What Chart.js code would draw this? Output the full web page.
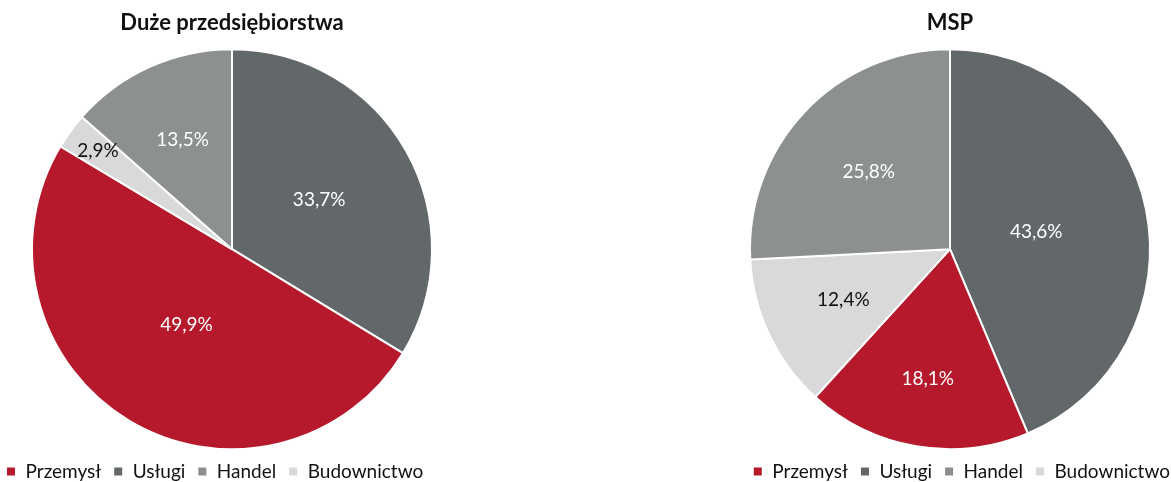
<!DOCTYPE html>
<html lang="pl">
<head>
<meta charset="utf-8">
<script src="https://cdn.jsdelivr.net/npm/chart.js@4.4.1/dist/chart.umd.min.js"></script>
<style>
    html, body { margin: 0; padding: 0; background: #fff; }
    body { position: relative; width: 1171px; height: 482px; overflow: hidden; }
    .pie-box { position: absolute; top: 0; height: 491px; }
    #largeBox { left: -6px; width: 476px; }
    #smeBox { left: 718px; width: 464px; }
</style>
</head>
<body>
<div class="pie-box" id="largeBox"><canvas id="largeChart"></canvas></div>
<div class="pie-box" id="smeBox"><canvas id="smeChart"></canvas></div>

<script>
// ===== Sector shares (%) =====
const sectors = ['Usługi', 'Przemysł', 'Budownictwo', 'Handel'];
const largeShares = [33.7, 49.9, 2.9, 13.5];
const smeShares = [43.6, 18.1, 12.4, 25.8];
const legendOrder = ['Przemysł', 'Usługi', 'Handel', 'Budownictwo'];

// ===== Colors =====
const sectorColors = ['#62676a', '#b5192b', '#d9d9d9', '#8c9091'];
const labelColors = ['#ffffff', '#ffffff', '#111111', '#ffffff'];

// how far out from the centre each value label sits (share of radius)
const largeLabelPos = [0.50, 0.44, 0.83, 0.60];
const smeLabelPos = [0.44, 0.66, 0.59, 0.56];

const fontFamily = 'Lato, "Open Sans", sans-serif';

// ===== Value labels plugin =====
const sliceLabels = {
    id: 'sliceLabels',
    afterDatasetsDraw(chart, args, opts) {
        const { ctx } = chart;
        const meta = chart.getDatasetMeta(0);
        const values = chart.data.datasets[0].data;
        ctx.save();
        ctx.font = `${opts.size}px ${fontFamily}`;
        ctx.textAlign = 'center';
        ctx.textBaseline = 'middle';
        meta.data.forEach((arc, i) => {
            const p = arc.getProps(['x', 'y', 'startAngle', 'endAngle', 'outerRadius'], true);
            const mid = (p.startAngle + p.endAngle) / 2;
            const r = p.outerRadius * opts.positions[i];
            ctx.fillStyle = labelColors[i];
            ctx.fillText(values[i].toFixed(1).replace('.', ',') + '%',
                p.x + Math.cos(mid) * r, p.y + Math.sin(mid) * r);
        });
        ctx.restore();
    }
};

function makePie(canvasId, title, values, positions, legendAlign) {
    const ctx = document.getElementById(canvasId);
    return new Chart(ctx, {
        type: 'pie',
        data: {
            labels: sectors,
            datasets: [{
                data: values,
                backgroundColor: sectorColors,
                borderColor: '#ffffff',
                borderWidth: 2,
                radius: 200
            }]
        },
        options: {
            responsive: true,
            maintainAspectRatio: false,
            animation: false,
            layout: { padding: 0 },
            plugins: {
                title: {
                    display: true,
                    text: title,
                    color: '#111111',
                    font: { family: fontFamily, size: 22, weight: 'bold', lineHeight: 1.2 },
                    padding: { top: 10, bottom: 12 }
                },
                legend: {
                    position: 'bottom',
                    align: legendAlign,
                    labels: {
                        boxWidth: 10,
                        boxHeight: 10,
                        padding: 12,
                        color: '#111111',
                        font: { family: fontFamily, size: 19 },
                        sort: (a, b) => legendOrder.indexOf(a.text) - legendOrder.indexOf(b.text)
                    }
                },
                tooltip: { enabled: false },
                sliceLabels: { size: 19, positions: positions }
            }
        },
        plugins: [sliceLabels]
    });
}

makePie('largeChart', 'Duże przedsiębiorstwa', largeShares, largeLabelPos, 'start');
makePie('smeChart', 'MSP', smeShares, smeLabelPos, 'end');
</script>
</body>
</html>
